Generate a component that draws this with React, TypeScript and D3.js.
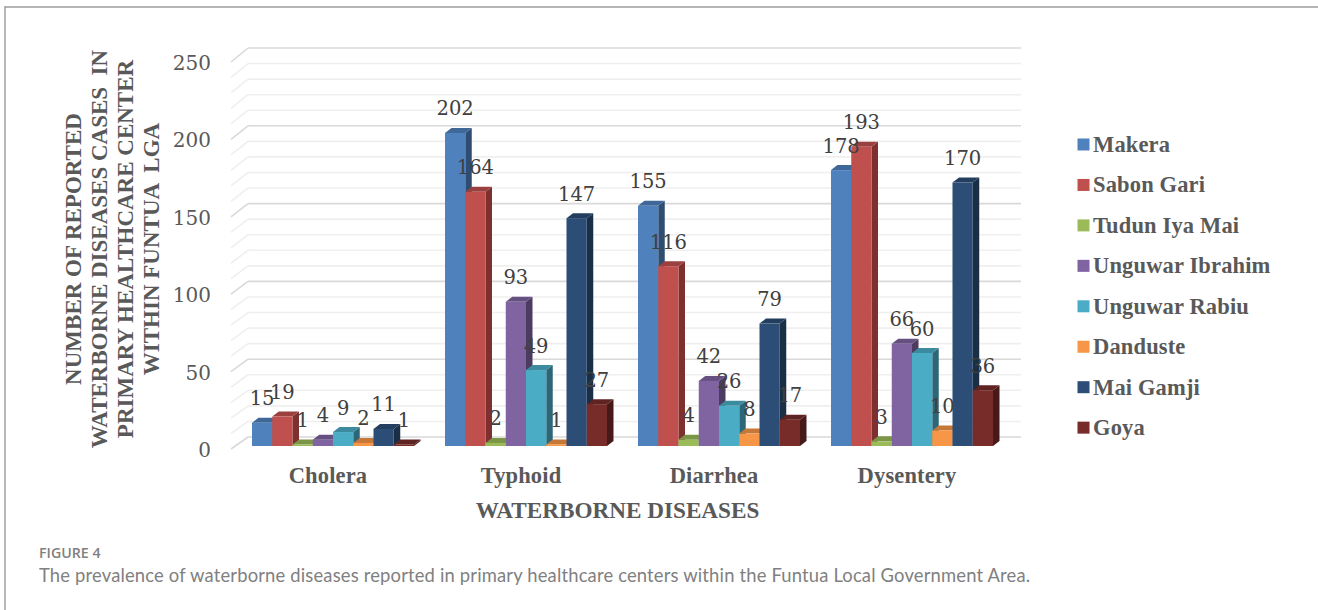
import React from "react";
import * as d3 from "d3";

const categories = ["Cholera", "Typhoid", "Diarrhea", "Dysentery"];
const seriesNames = ["Makera", "Sabon Gari", "Tudun Iya Mai", "Unguwar Ibrahim", "Unguwar Rabiu", "Danduste", "Mai Gamji", "Goya"];
const makera = [15, 202, 155, 178];
const sabonGari = [19, 164, 116, 193];
const tudunIyaMai = [1, 2, 4, 3];
const unguwarIbrahim = [4, 93, 42, 66];
const unguwarRabiu = [9, 49, 26, 60];
const danduste = [2, 1, 8, 10];
const maiGamji = [11, 147, 79, 170];
const goya = [1, 27, 17, 36];
const seriesValues = [makera, sabonGari, tudunIyaMai, unguwarIbrahim, unguwarRabiu, danduste, maiGamji, goya];
const frontColors = ["#4f81bd", "#c0504d", "#9bbb59", "#8064a2", "#4bacc6", "#f79646", "#2c4d75", "#772c2a"];
const topColors = ["#3f6797", "#9a403e", "#7c9647", "#665082", "#3c8a9e", "#c67838", "#233e5e", "#5f2322"];
const sideColors = ["#2f4d71", "#7d302e", "#5d7035", "#4d3c61", "#2d6777", "#95592a", "#1a2e46", "#471a19"];
const yTicks = [0, 50, 100, 150, 200, 250];
const gridValues = d3.range(0, 251, 10);
const yAxisTitle = [
  "NUMBER OF REPORTED",
  "WATERBORNE DISEASES CASES  IN",
  "PRIMARY HEALTHCARE CENTER",
  "WITHIN FUNTUA  LGA",
];

// Column fronts, back wall and side wall each sit on their own projected value scale.
const y = d3.scaleLinear().domain([0, 250]).range([446, 58.5]);
const yBack = d3.scaleLinear().domain([0, 250]).range([437, 48]);
const ySide = d3.scaleLinear().domain([0, 250]).range([449, 62]);
const x0 = d3.scaleLinear().domain([0, 1]).range([252, 445]);
const barW = 20.25;
const depthX = 6.5;
const depthY = 5;
const wallX = 248;
const wallRight = 1021;
const sideX = 231;

const serif = "'Liberation Serif', serif";
const labelFont = "'DejaVu Serif', 'Liberation Serif', serif";

export default function App() {
  return (
    <svg width={1318} height={610} style={{ position: "absolute", left: 0, top: 0, background: "#fff" }}>
      {/* figure frame: top rule and left rule */}
      <line x1={5} x2={1318} y1={7} y2={7} stroke="#b4b4b4" strokeWidth={2} />
      <line x1={5} x2={5} y1={6} y2={610} stroke="#a0a0a0" strokeWidth={1.5} />

      {/* back wall and side wall gridlines */}
      {gridValues.map((v) => (
        <g key={v} stroke={v % 50 === 0 ? "#d9d9d9" : "#efefef"} strokeWidth={1.6} fill="none">
          <line x1={wallX} x2={wallRight} y1={yBack(v)} y2={yBack(v)} />
          <line x1={sideX} x2={wallX} y1={ySide(v)} y2={yBack(v)} />
        </g>
      ))}

      {/* value axis labels */}
      {yTicks.map((t) => (
        <text key={t} x={211} y={y(t) + 11} textAnchor="end" fontFamily={labelFont} fontSize={20} fill="#595959">
          {t}
        </text>
      ))}

      {/* 3D columns */}
      {categories.map((cat, c) =>
        seriesValues.map((vals, s) => {
          const left = x0(c) + s * barW;
          const right = left + barW;
          const top = y(vals[c]);
          const base = y(0);
          return (
            <g key={`${cat}-${s}`}>
              <path
                d={`M${right} ${top}L${right + depthX} ${top - depthY}V${base - depthY}L${right} ${base}Z`}
                fill={sideColors[s]}
              />
              <path
                d={`M${left} ${top}L${left + depthX} ${top - depthY}H${right + depthX}L${right} ${top}Z`}
                fill={topColors[s]}
              />
              <rect x={left} y={top} width={barW} height={base - top} fill={frontColors[s]} />
            </g>
          );
        })
      )}

      {/* data labels */}
      {categories.map((cat, c) =>
        seriesValues.map((vals, s) => (
          <text
            key={`${cat}-label-${s}`}
            x={x0(c) + s * barW + barW / 2}
            y={y(vals[c]) - 17.5}
            textAnchor="middle"
            fontFamily={labelFont}
            fontSize={19.5}
            fill="#404040"
          >
            {vals[c]}
          </text>
        ))
      )}

      {/* category labels */}
      {categories.map((cat, c) => (
        <text
          key={cat}
          x={x0(c) + 4 * barW - 5}
          y={483}
          textAnchor="middle"
          fontFamily={serif}
          fontWeight="bold"
          fontSize={22.5}
          letterSpacing={0.15}
          fill="#595959"
        >
          {cat}
        </text>
      ))}

      {/* axis titles */}
      <text
        x={617.5}
        y={518}
        textAnchor="middle"
        fontFamily={serif}
        fontWeight="bold"
        fontSize={23.2}
        fill="#595959"
      >
        WATERBORNE DISEASES
      </text>
      {yAxisTitle.map((line, i) => (
        <text
          key={line}
          transform={`translate(${81 + i * 26},249) rotate(-90)`}
          textAnchor="middle"
          fontFamily={serif}
          fontWeight="bold"
          fontSize={23}
          fill="#595959"
          style={{ whiteSpace: "pre" }}
        >
          {line}
        </text>
      ))}

      {/* legend */}
      {seriesNames.map((name, i) => {
        const rowY = 144.5 + i * 40.45;
        return (
          <g key={name}>
            <rect x={1077.5} y={rowY - 6} width={12} height={12} fill={frontColors[i]} />
            <text
              x={1093}
              y={rowY + 7.5}
              fontFamily={serif}
              fontWeight="bold"
              fontSize={22.5}
              letterSpacing={0.15}
              fill="#595959"
            >
              {name}
            </text>
          </g>
        );
      })}

      {/* caption */}
      <text x={39} y={558} fontFamily="'Open Sans', sans-serif" fontWeight={600} fontSize={14.2} fill="#808080">
        FIGURE 4
      </text>
      <text x={39} y={581.5} fontFamily="Lato, sans-serif" fontSize={18.4} letterSpacing={0.17} fill="#808080">
        The prevalence of waterborne diseases reported in primary healthcare centers within the Funtua Local Government Area.
      </text>
    </svg>
  );
}
